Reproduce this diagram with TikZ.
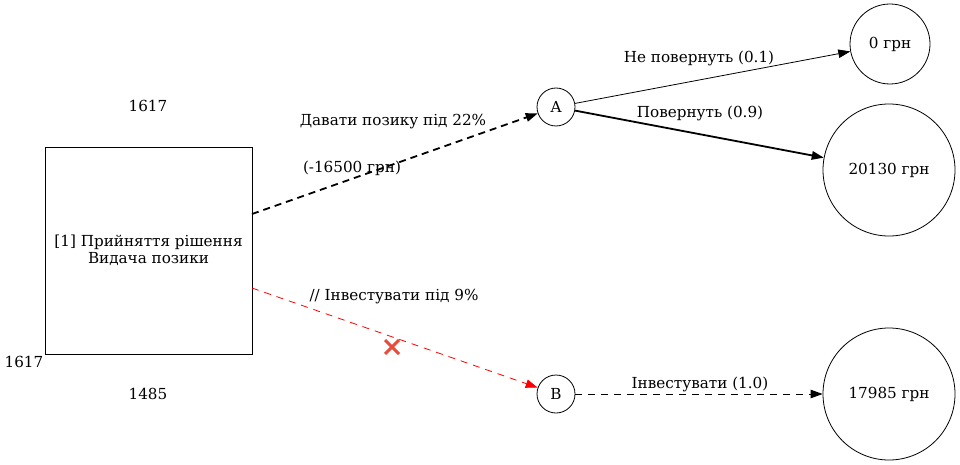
\documentclass[tikz,border=0pt]{standalone}
\usepackage{fontspec}
\setmainfont{DejaVu Serif}
\usetikzlibrary{arrows.meta}
\definecolor{xred}{RGB}{231,76,60}
\tikzset{
  lbl/.style={inner sep=0pt,font=\fontsize{15.2}{17}\selectfont},
  circ/.style={draw,circle,inner sep=0pt,line width=0.8pt,font=\fontsize{15.2}{17}\selectfont},
  arr/.style={-{Triangle[length=12pt,width=8.5pt]}},
}
\begin{document}
\begin{tikzpicture}[x=1pt,y=-1pt]
\useasboundingbox (0,0) rectangle (960,465);
\node[draw,line width=0.8pt,minimum width=207pt,minimum height=207pt,align=center,font=\fontsize{15.2}{16.5}\selectfont] (box) at (148.5,250.5) {[1] Прийняття рішення\\Видача позики};
\node[lbl] (t1) at (148,106) {1617};
\node[lbl] (t2) at (24,362) {1617};
\node[lbl] (t3) at (148,394) {1485};
\node[circ,minimum size=38pt] (A) at (556,107) {A};
\node[circ,minimum size=38pt] (B) at (556,394) {B};
\node[circ,minimum size=80pt] (z) at (890,44) {0 грн};
\node[circ,minimum size=132pt] (w) at (889,170) {20130 грн};
\node[circ,minimum size=132pt] (v) at (889,394) {17985 грн};
\coordinate (bA) at (252,214);
\coordinate (bB) at (252,288);
\draw[arr,line width=1.8pt,dash pattern=on 7pt off 5pt] (bA) -- (A);
\draw[arr,red,line width=0.8pt,dash pattern=on 7pt off 6pt] (bB) -- (B);
\draw[arr,line width=0.8pt] (A) -- (z);
\draw[arr,line width=1.8pt] (A) -- (w);
\draw[arr,line width=0.8pt,dash pattern=on 7pt off 6pt] (B) -- (v);
\node[lbl] (l1) at (393,122) {Давати позику під 22\%};
\node[lbl] (l2) at (352,168) {(-16500 грн)};
\node[lbl] (l3) at (394,297) {// Інвестувати під 9\%};
\node[lbl] (l4) at (699,58) {Не повернуть (0.1)};
\node[lbl] (l5) at (700,113) {Повернуть (0.9)};
\node[lbl] (l6) at (700,384) {Інвестувати (1.0)};
\coordinate (xc) at (392,347);
\draw[xred,line width=3pt] ([shift={(-7,-7)}]xc) -- ([shift={(7,7)}]xc);
\draw[xred,line width=3pt] ([shift={(-7,7)}]xc) -- ([shift={(7,-7)}]xc);
\end{tikzpicture}
\end{document}
